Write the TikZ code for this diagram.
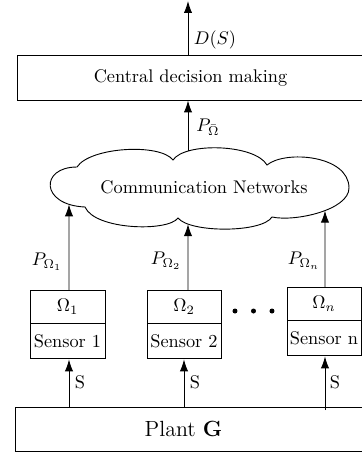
\documentclass[tikz,border=0pt]{standalone}
\usetikzlibrary{arrows.meta,intersections,calc}
\begin{document}
\def\u{0.546pt}
\begin{tikzpicture}[x=\u,y=-\u,
  box/.style={draw, line width=0.5pt, inner sep=0pt},
  flow/.style={-{Latex[length=6.5pt,width=4.5pt]}, line width=0.5pt},
  lbl/.style={inner sep=0pt}]
\clip (0,0) rectangle (362,453);

% decision block
\node[box, minimum width=347*\u, minimum height=45*\u] (cdm) at (190.5,77.5) {Central decision making};

% network cloud, one curve per puff
\draw[line width=0.5pt, name path=cloudp]
  (77,167) .. controls (90,147) and (160,143) .. (173,160)
           .. controls (185,142) and (255,144) .. (267,165)
           .. controls (285,150) and (349,155) .. (349,188)
           .. controls (349,210) and (295,222) .. (272,217)
           .. controls (262,233) and (190,233) .. (178,218)
           .. controls (168,232) and (95,230) .. (85,207)
           .. controls (40,205) and (40,167) .. cycle;
\node[lbl] (cn) at (204,187) {Communication Networks};

% sensors
\node[box, minimum width=75*\u, minimum height=33*\u] (om1) at (67.5,306.5) {$\Omega_1$};
\node[box, minimum width=75*\u, minimum height=35*\u, anchor=north] (se1) at (om1.south) {Sensor 1};
\node[box, minimum width=74*\u, minimum height=33*\u] (om2) at (184,306.5) {$\Omega_2$};
\node[box, minimum width=74*\u, minimum height=35*\u, anchor=north] (se2) at (om2.south) {Sensor 2};
\node[box, minimum width=74*\u, minimum height=33*\u] (omn) at (324,303.5) {$\Omega_n$};
\node[box, minimum width=74*\u, minimum height=35*\u, anchor=north] (sen) at (omn.south) {Sensor n};

% plant
\node[box, minimum width=352*\u, minimum height=44*\u, anchor=north west] (plant) at (15,407) {};
\node[lbl] (pg) at (183.5,429) {\large Plant $\mathbf{G}$};

% ellipsis between sensors
\fill (235,311) circle[radius=2.5];
\fill (253.5,311) circle[radius=2.5];
\fill (272,311) circle[radius=2.5];

% output arrow
\coordinate (out) at (188,1);
\draw[flow] (cdm.north -| out) -- (out);
\node[lbl] (ds) at (215,40) {$D(S)$};

% cloud to decision block
\path[name path=v0] (188,120) -- (188,220);
\path[name intersections={of=v0 and cloudp, sort by=v0, by={t0}}];
\draw[flow] (t0) -- (cdm.south -| t0);
\node[lbl] (pbar) at (208,127) {$P_{\bar{\Omega}}$};

% sensors to cloud
\coordinate (u1) at (69,290);
\coordinate (u2) at (188,290);
\coordinate (u3) at (325,287);
\path[name path=v1] (u1) -- ++(0,-150);
\path[name intersections={of=v1 and cloudp, sort by=v1, by={b1}}];
\draw[flow] (u1) -- (b1);
\path[name path=v2] (u2) -- ++(0,-150);
\path[name intersections={of=v2 and cloudp, sort by=v2, by={b2}}];
\draw[flow] (u2) -- (b2);
\path[name path=v3] (u3) -- ++(0,-150);
\path[name intersections={of=v3 and cloudp, sort by=v3, by={b3}}];
\draw[flow] (u3) -- (b3);
\node[lbl] (p1) at (47,262) {$P_{\Omega_1}$};
\node[lbl] (p2) at (166,261) {$P_{\Omega_2}$};
\node[lbl] (pn) at (304,261) {$P_{\Omega_n}$};

% plant to sensors
\draw[flow] (plant.north -| u1) -- (se1.south -| u1);
\draw[flow] (plant.north -| se2) -- (se2.south);
\draw[flow] ([yshift=-3*\u]plant.north -| u3) -- (sen.south -| u3);
\node[lbl] (s1) at (80,382) {S};
\node[lbl] (s2) at (195,382) {S};
\node[lbl] (sn) at (335,382) {S};
\end{tikzpicture}
\end{document}
